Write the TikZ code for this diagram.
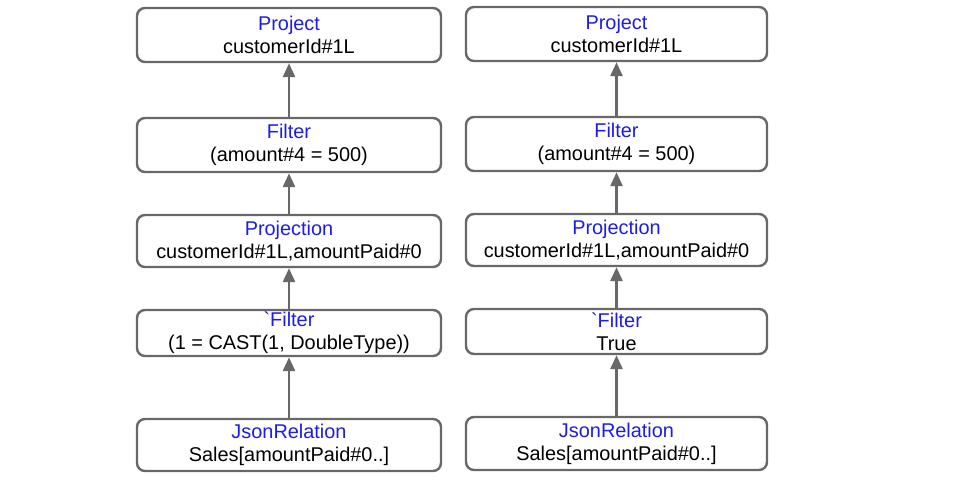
\documentclass[tikz,border=0pt]{standalone}
\usepackage{fontspec}
\setmainfont{Liberation Sans}
% same face without the TeX quote mapping, so ` stays a grave accent
\newfontfamily\rawsans{Liberation Sans}
\usetikzlibrary{arrows.meta}
\definecolor{opblue}{RGB}{28,28,235}
\definecolor{edgegray}{RGB}{104,104,104}
\newcommand{\opname}[1]{\textcolor{opblue}{#1}}
\newcommand{\gravemark}{{\rawsans\char"60\relax}}
\begin{document}
\begin{tikzpicture}[x=1pt,y=-1pt,
  planbox/.style={draw=edgegray, line width=2.4pt, rounded corners=8pt,
    fill=white, align=center, inner sep=0pt, minimum width=#1,
    font=\fontsize{19.9}{23}\selectfont},
  planbox/.default=304,
  flow/.style={draw=edgegray, line width=2.7pt,
    -{Triangle[length=14pt,width=12pt]}}]
\useasboundingbox (0,0) rectangle (968,488);

% left plan
\node[planbox, minimum height=54] (lp) at (289,35) {\opname{Project}\\customerId\#1L};
\node[planbox, minimum height=54] (lf) at (289,145) {\opname{Filter}\\(amount\#4 = 500)};
\node[planbox, minimum height=52] (lj) at (289,241) {\opname{Projection}\\customerId\#1L,amountPaid\#0};
\node[planbox, minimum height=46] (lc) at (289,333) {\opname{\gravemark Filter}\\(1 = CAST(1, DoubleType))};
\node[planbox, minimum height=52] (lr) at (289,445) {\opname{JsonRelation}\\Sales[amountPaid\#0..]};

% right plan
\node[planbox=301, minimum height=54] (rp) at (616.5,34) {\opname{Project}\\customerId\#1L};
\node[planbox=301, minimum height=54] (rf) at (616.5,144) {\opname{Filter}\\(amount\#4 = 500)};
\node[planbox=301, minimum height=52] (rj) at (616.5,240) {\opname{Projection}\\customerId\#1L,amountPaid\#0};
\node[planbox=301, minimum height=45] (rc) at (616.5,331.5) {\opname{\gravemark Filter}\\True};
\node[planbox=301, minimum height=53] (rr) at (616.5,443.5) {\opname{JsonRelation}\\Sales[amountPaid\#0..]};

% data flows upward
\draw[flow] (lf.north) -- (lp.south);
\draw[flow] (lj.north) -- (lf.south);
\draw[flow] (lc.north) -- (lj.south);
\draw[flow] (lr.north) -- (lc.south);
\draw[flow] (rf.north) -- (rp.south);
\draw[flow] (rj.north) -- (rf.south);
\draw[flow] (rc.north) -- (rj.south);
\draw[flow] (rr.north) -- (rc.south);
\end{tikzpicture}
\end{document}
